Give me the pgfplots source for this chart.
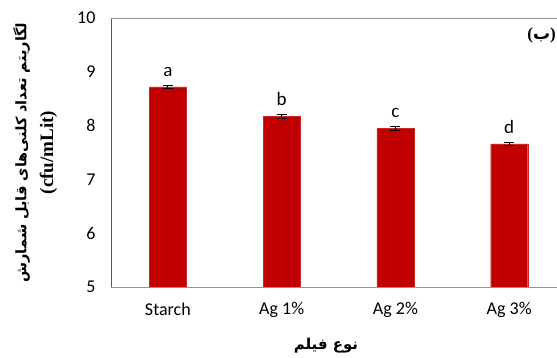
\documentclass[border=0pt]{standalone}
\usepackage{pgfplots}
\pgfplotsset{compat=1.18}
\usepackage{fontspec}
\setmainfont{Carlito}
\newfontfamily\arabicfont[Script=Arabic]{DejaVu Sans}
\newfontfamily\serifb{Liberation Serif}
\TeXXeTstate=1
\definecolor{barred}{HTML}{C00000}
\begin{document}
\begin{tikzpicture}
\begin{axis}[
  at={(0,0)}, anchor=south west,
  scale only axis, width=446pt, height=269pt,
  xmin=-0.5, xmax=3.42, ymin=5, ymax=10,
  ytick={5,6,7,8,9,10},
  yticklabels={5,6,7,8,9,10},
  xtick=data, xticklabels={Starch, Ag 1\%, Ag 2\%, Ag 3\%},
  major tick length=0pt,
  axis line style={draw=none},
  ybar, bar width=37pt,
  ticklabel style={font=\fontsize{18}{20}\selectfont},
  /pgf/number format/assume math mode=true,
  yticklabel style={xshift=-12pt},
  xticklabel style={yshift=-12pt},
  xlabel={\arabicfont\bfseries\fontsize{15}{20}\selectfont\beginR نوع فیلم\endR},
  xlabel style={at={(axis description cs:0.482,-0.219)}, anchor=center},
  ylabel={\arabicfont\bfseries\fontsize{14.5}{20}\selectfont\beginR لگاریتم تعداد کلنی‌های قابل شمارش\endR\\[9pt] \serifb\bfseries\fontsize{19}{20}\selectfont (cfu/mLit)},
  ylabel style={at={(axis description cs:-0.170,0.5)}, anchor=center, align=center},
  nodes near coords,
  point meta=explicit symbolic,
  nodes near coords style={font=\fontsize{19}{20}\selectfont, yshift=7pt},
  clip=false,
]
\addplot[fill=barred, draw=barred!85!white,
  error bars/.cd, y dir=both, y explicit,
  error bar style={black, line width=0.8pt},
  error mark options={rotate=90, mark size=5pt, black, line width=0.8pt}]
  table[x=x, y=y, y error=e, meta=l] {
x y e l
0 8.72 0.035 a
1 8.17 0.030 b
2 7.95 0.035 c
3 7.66 0.030 d
};
\draw[black!65, line width=0.8pt] (rel axis cs:0,0) -- (rel axis cs:0,1);
\draw[gray!85, line width=0.8pt] (rel axis cs:0,0) -- (rel axis cs:1,0);
\draw[gray!85, line width=1pt] (rel axis cs:0,1) -- (rel axis cs:1,1);
\node[anchor=east, inner sep=1pt, font=\fontsize{17}{20}\selectfont] at (rel axis cs:1,0.937) {{\serifb\bfseries(}{\arabicfont\bfseries ب}{\serifb\bfseries)}};
\end{axis}
\pgfresetboundingbox
\useasboundingbox (-111pt,-70pt) rectangle (446pt,287pt);
\end{tikzpicture}
\end{document}
